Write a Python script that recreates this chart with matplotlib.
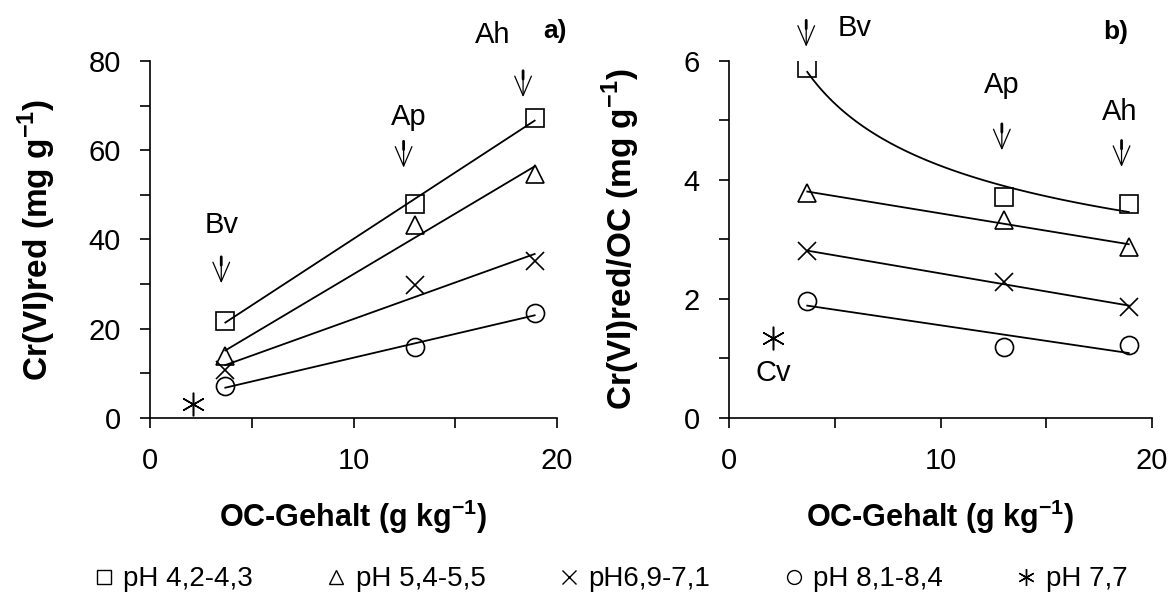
import numpy as np
import matplotlib
matplotlib.use("Agg")
import matplotlib.pyplot as plt
from matplotlib.lines import Line2D

plt.rcParams['font.family'] = ['Liberation Sans', 'DejaVu Sans']
plt.rcParams['mathtext.fontset'] = 'custom'
plt.rcParams['mathtext.rm'] = 'Liberation Sans'
plt.rcParams['mathtext.bf'] = 'Liberation Sans:bold'

# OC content of the horizons (g/kg)
oc = [3.7, 13.0, 18.9]
oc_cv = 2.1

# a) Cr(VI)red (mg/g)
red_ph43 = [21.8, 48.0, 67.3]
red_ph55 = [14.0, 43.3, 54.6]
red_ph70 = [10.8, 29.8, 35.1]
red_ph82 = [7.1, 15.9, 23.5]
red_cv = 3.1

# b) Cr(VI)red / OC
rat_ph43 = [5.88, 3.72, 3.59]
rat_ph55 = [3.78, 3.33, 2.88]
rat_ph70 = [2.80, 2.28, 1.87]
rat_ph82 = [1.97, 1.19, 1.22]
rat_cv = 1.35

legend_labels = ['pH 4,2-4,3', 'pH 5,4-5,5', 'pH6,9-7,1', 'pH 8,1-8,4', 'pH 7,7']

star = (6, 2, 0)
mk = dict(color='k', mfc='none', mec='k', ms=13, mew=1.2, ls='none')

fig = plt.figure(figsize=(11.73, 6.10), dpi=100)
ax1 = fig.add_axes([0.1279, 0.3148, 0.347, 0.5852])
ax2 = fig.add_axes([0.6215, 0.3148, 0.3606, 0.5852])


def style(ax, ymax, ymaj, ymin):
    ax.set_xlim(0, 20)
    ax.set_ylim(0, ymax)
    for s in ['top', 'right']:
        ax.spines[s].set_visible(False)
    for s in ['left', 'bottom']:
        ax.spines[s].set_linewidth(1.2)
    ax.set_xticks([0, 10, 20])
    ax.set_xticks([5, 15], minor=True)
    ax.set_yticks(np.arange(0, ymax + 0.01, ymaj))
    ax.set_yticks(np.arange(0, ymax + 0.01, ymin), minor=True)
    ax.tick_params(which='both', direction='out', length=7, width=1.2, labelsize=21)
    ax.tick_params(axis='x', pad=14)
    ax.tick_params(axis='y', pad=14)
    ax.set_xlabel('OC-Gehalt (g kg$^{\\mathbf{-1}}$)', fontsize=22, fontweight='bold', labelpad=16)


def fitline(ax, x, y):
    k, d = np.polyfit(x, y, 1)
    xx = np.array([x[0], x[-1]])
    ax.plot(xx, k * xx + d, color='k', lw=1.3)


def arrow(ax, x, y):
    # short thick dash on top, open V head below
    ax.annotate('', xy=(x, y), xycoords='data', xytext=(0, 19), textcoords='offset points',
                arrowprops=dict(arrowstyle='-', lw=2.0, ls=(0, (3, 20)),
                                shrinkA=0, shrinkB=0), annotation_clip=False)
    ax.annotate('', xy=(x, y), xytext=(0, 14), textcoords='offset points',
                arrowprops=dict(arrowstyle='->,head_length=0.7,head_width=0.3',
                                mutation_scale=20, lw=0.9, shrinkA=0, shrinkB=0),
                annotation_clip=False)


# ---- a)
style(ax1, 80, 20, 10)
for ys, m in [(red_ph43, 's'), (red_ph55, '^'), (red_ph70, 'x'), (red_ph82, 'o')]:
    fitline(ax1, oc, ys)
    ax1.plot(oc, ys, marker=m, **mk)
ax1.plot([oc_cv], [red_cv], marker=star, color='k', ms=17, mew=1.1, ls='none')
ax1.set_ylabel('Cr(VI)red (mg g$^{\\mathbf{-1}}$)', fontsize=24, fontweight='bold', labelpad=22)

for name, tx, ty, ax_, ay in [('Bv', 3.5, 43.3, 3.5, 30.2), ('Ap', 12.7, 67.4, 12.46, 56.1),
                              ('Ah', 16.85, 85.8, 18.33, 71.9)]:
    ax1.text(tx, ty, name, fontsize=21, ha='center', va='center', clip_on=False)
    arrow(ax1, ax_, ay)
ax1.text(19.9, 86.7, 'a)', fontsize=19, fontweight='bold', ha='center', va='center', clip_on=False)

# ---- b)
style(ax2, 6, 2, 1)
lx, ly = np.log(oc), np.log(rat_ph43)
b, a = np.polyfit(lx, ly, 1)
xc = np.linspace(oc[0], oc[-1], 100)
ax2.plot(xc, np.exp(a) * xc ** b, color='k', lw=1.3)
ax2.plot(oc, rat_ph43, marker='s', **mk)
for ys, m in [(rat_ph55, '^'), (rat_ph70, 'x'), (rat_ph82, 'o')]:
    fitline(ax2, oc, ys)
    ax2.plot(oc, ys, marker=m, **mk)
ax2.plot([oc_cv], [rat_cv], marker=star, color='k', ms=17, mew=1.1, ls='none')
ax2.set_ylabel('Cr(VI)red/OC (mg g$^{\\mathbf{-1}}$)', fontsize=24, fontweight='bold', labelpad=30)

for name, tx, ty, ax_, ay in [('Bv', 5.96, 6.55, 3.65, 6.24), ('Ap', 12.9, 5.60, 12.9, 4.50),
                              ('Ah', 18.47, 5.14, 18.56, 4.22)]:
    ax2.text(tx, ty, name, fontsize=21, ha='center', va='center', clip_on=False)
    arrow(ax2, ax_, ay)
ax2.text(2.1, 0.76, 'Cv', fontsize=21, ha='center', va='center')
ax2.text(18.3, 6.49, 'b)', fontsize=19, fontweight='bold', ha='center', va='center', clip_on=False)

# ---- legend
handles = [Line2D([], [], marker=m, color='k', mfc='none', ls='none', ms=10, mew=1.0)
           for m in ['s', '^', 'x', 'o']]
handles.append(Line2D([], [], marker=star, color='k', ls='none', ms=12, mew=1.0))
fig.legend(handles, legend_labels, loc='center', bbox_to_anchor=(0.52, 0.05), ncol=5,
           frameon=False, handlelength=0.8, handletextpad=0.3, columnspacing=2.6,
           prop={'family': ['Liberation Sans Narrow', 'Liberation Sans'], 'size': 20})

fig.savefig('out.png', dpi=100)
